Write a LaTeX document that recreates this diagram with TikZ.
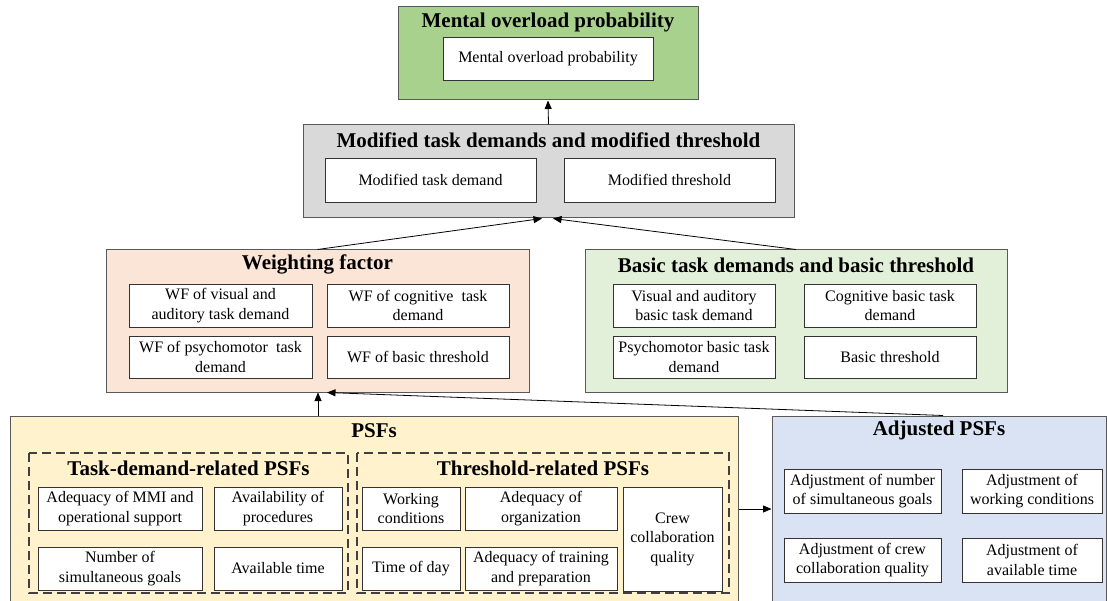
\documentclass[tikz,border=0pt]{standalone}
\usepackage{fontspec}
\setmainfont{Liberation Serif}
\usetikzlibrary{arrows.meta,calc}
\definecolor{cgreen}{HTML}{A9D18E}
\definecolor{cgray}{HTML}{D9D9D9}
\definecolor{corange}{HTML}{FBE5D6}
\definecolor{clgreen}{HTML}{E2F0D9}
\definecolor{cyellow}{HTML}{FFF2CC}
\definecolor{cblue}{HTML}{DAE3F3}
\tikzset{
  outerbox/.style={draw=black!65, line width=1pt, rectangle, inner sep=0pt},
  wbox/.style={draw=black!80, fill=white, line width=0.9pt, rectangle, inner sep=1pt, align=center,
    font=\fontsize{16}{19.5}\selectfont},
  ttl/.style={font=\fontsize{21}{24}\selectfont\bfseries, inner sep=0pt, yshift=-2pt},
  dashbox/.style={draw=black!75, line width=1.4pt, dash pattern=on 9pt off 5pt},
  arr/.style={draw=black, line width=0.8pt, -{Triangle[length=8.5pt,width=7pt]}}
}
\begin{document}
\begin{tikzpicture}[x=1pt,y=-1pt]
\useasboundingbox (0,0) rectangle (1107,601);
\clip (0,0) rectangle (1107,601);
% top green
\node[outerbox, fill=cgreen, minimum width=300pt, minimum height=93pt] (mop) at (548,53.5) {};
\node[ttl] (moptitle) at (548,20) {Mental overload probability};
\node[wbox, minimum width=210pt, minimum height=43pt] (mopin) at (548,58.5) {Mental overload probability};
% gray
\node[outerbox, fill=cgray, minimum width=491pt, minimum height=93pt] (mod) at (548.5,171.5) {};
\node[ttl] (modtitle) at (548.5,138) {Modified task demands and modified threshold};
\node[wbox, minimum width=211pt, minimum height=44pt] (modtd) at (430.5,180) {Modified task demand};
\node[wbox, minimum width=211pt, minimum height=44pt] (modth) at (669.5,180) {Modified threshold};
% weighting factor
\node[outerbox, fill=corange, minimum width=423pt, minimum height=142pt] (wf) at (317.5,321) {};
\node[ttl] (wftitle) at (317.5,262.5) {Weighting factor};
\node[wbox, minimum width=183pt, minimum height=43pt] (wf1) at (220.5,305.5) {WF of visual and\\auditory task demand};
\node[wbox, minimum width=182pt, minimum height=43pt] (wf2) at (418,305.5) {WF of cognitive\ \ task\\demand};
\node[wbox, minimum width=183pt, minimum height=42pt] (wf3) at (220.5,357) {WF of psychomotor\ \ task\\demand};
\node[wbox, minimum width=182pt, minimum height=42pt] (wf4) at (418,357) {WF of basic threshold};
% basic
\node[outerbox, fill=clgreen, minimum width=422pt, minimum height=142pt] (bt) at (796,321) {};
\node[ttl] (bttitle) at (796,263) {Basic task demands and basic threshold};
\node[wbox, minimum width=162pt, minimum height=43pt] (bt1) at (694,305.5) {Visual and auditory\\basic task demand};
\node[wbox, minimum width=172pt, minimum height=43pt] (bt2) at (890,305.5) {Cognitive basic task\\demand};
\node[wbox, minimum width=162pt, minimum height=42pt] (bt3) at (694,357) {Psychomotor basic task\\demand};
\node[wbox, minimum width=172pt, minimum height=42pt] (bt4) at (890,357) {Basic threshold};
% PSFs
\node[outerbox, fill=cyellow, minimum width=728pt, minimum height=194pt] (psf) at (374,513) {};
\node[ttl] (psftitle) at (374,429) {PSFs};
\draw[dashbox] (29,453) rectangle (348,593);
\draw[dashbox] (357,453) rectangle (729,593);
\node[ttl] (tdtitle) at (188.5,466) {Task-demand-related PSFs};
\node[ttl] (thtitle) at (543,466) {Threshold-related PSFs};
\node[wbox, minimum width=164pt, minimum height=43pt] (p1) at (120,508.5) {Adequacy of MMI and\\operational support};
\node[wbox, minimum width=128pt, minimum height=43pt] (p2) at (278,508.5) {Availability of\\procedures};
\node[wbox, minimum width=164pt, minimum height=43pt] (p3) at (120,568.5) {Number of\\simultaneous goals};
\node[wbox, minimum width=128pt, minimum height=43pt] (p4) at (278,568.5) {Available time};
\node[wbox, minimum width=98pt, minimum height=43pt] (p5) at (411,508.5) {Working\\conditions};
\node[wbox, minimum width=152pt, minimum height=43pt] (p6) at (541,508.5) {Adequacy of\\organization};
\node[wbox, minimum width=98pt, minimum height=43pt] (p7) at (411,568.5) {Time of day};
\node[wbox, minimum width=152pt, minimum height=43pt] (p8) at (541,568.5) {Adequacy of training\\and preparation};
\node[wbox, minimum width=99pt, minimum height=104pt] (p9) at (672.5,539) {Crew\\collaboration\\quality};
% adjusted
\node[outerbox, fill=cblue, minimum width=334pt, minimum height=194pt] (adj) at (939,513) {};
\node[ttl] (adjtitle) at (939,428) {Adjusted PSFs};
\node[wbox, minimum width=157pt, minimum height=44pt] (a1) at (862.5,491) {Adjustment of number\\of simultaneous goals};
\node[wbox, minimum width=140pt, minimum height=44pt] (a2) at (1032,491) {Adjustment of\\working conditions};
\node[wbox, minimum width=157pt, minimum height=44pt] (a3) at (862.5,560) {Adjustment of crew\\collaboration quality};
\node[wbox, minimum width=140pt, minimum height=44pt] (a4) at (1032,560) {Adjustment of\\available time};
% arrows
\draw[arr] (mod.north) -- (mop.south);
\draw[arr] (wf.north) -- ($(mod.south)+(-6.5,0)$);
\draw[arr] (bt.north) -- ($(mod.south)+(4.5,0)$);
\draw[arr] (psf.north -| 318,0) -- (wf.south -| 318,0);
\draw[arr] ($(adj.north)+(4,0)$) -- ($(wf.south)+(9.5,0)$);
\draw[arr] (psf.east |- 0,509) -- (adj.west |- 0,509);
\end{tikzpicture}
\end{document}
